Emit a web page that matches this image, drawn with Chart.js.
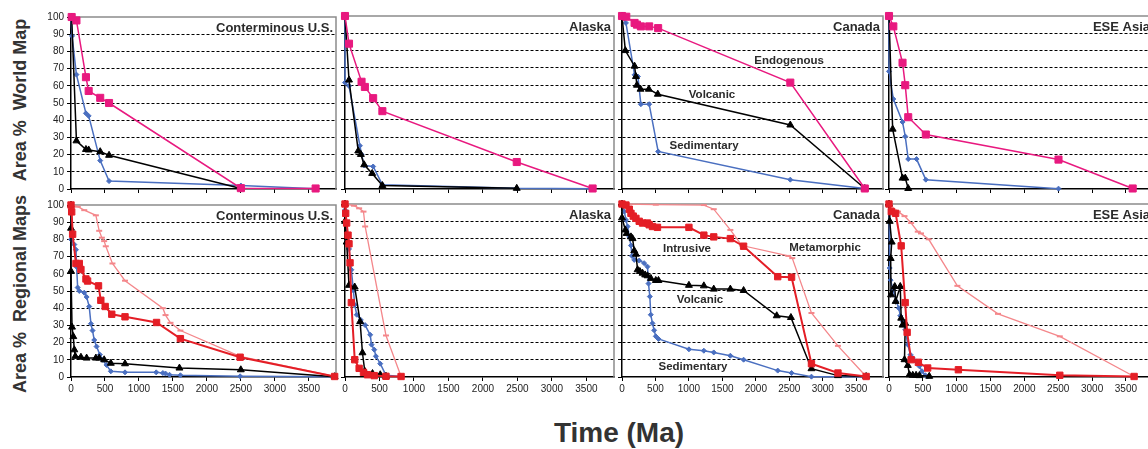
<!DOCTYPE html>
<html>
<head>
<meta charset="utf-8">
<script src="https://cdn.jsdelivr.net/npm/chart.js@4/dist/chart.umd.min.js"></script>
<style>
	html, body { margin: 0; padding: 0; background: #fff; overflow: hidden; }
	#wrap { position: relative; width: 1148px; height: 449px; overflow: hidden; }
	#wrap canvas { position: absolute; }
	.ytitle, .xtitle {
		position: absolute; font-family: 'Liberation Sans', Arial, sans-serif; font-weight: bold;
		color: #333; white-space: pre; line-height: 1;
	}
	.ytitle { font-size: 18px; transform: translate(-50%, -50%) rotate(-90deg); }
	.xtitle { font-size: 28px; transform: translate(-50%, -50%); }
</style>
</head>
<body>
<div id="wrap">
	<div class="ytitle" style="left:20px;top:100px">Area %  World Map</div>
	<div class="ytitle" style="left:20px;top:294px">Area %  Regional Maps</div>
	<div class="xtitle" style="left:619px;top:433px">Time (Ma)</div>
</div>
<script>
// axis setup
const xMax = 3900
const xTickValues = [0, 500, 1000, 1500, 2000, 2500, 3000, 3500]
const yTickValues = [0, 10, 20, 30, 40, 50, 60, 70, 80, 90, 100]
const panelTitles = ['Conterminous U.S.', 'Alaska', 'Canada', 'ESE Asia']

// World map (top row) - [age Ma, area %]
const usWorldEndo = [[10, 100], [80, 98], [220, 65], [260, 57], [430, 53], [560, 50], [2500, 0.5], [3600, 0.3]]
const usWorldSed = [[0, 100], [15, 89], [80, 66.5], [220, 44], [260, 42.5], [430, 16.5], [560, 4.6], [2500, 2], [3600, 0.2]]
const usWorldVol = [[10, 100], [80, 28], [220, 23], [260, 22.7], [430, 21.7], [560, 19.6], [2500, 0.3]]

const akWorldEndo = [[0, 100], [58, 84], [240, 62], [288, 59], [408, 52.5], [542, 45], [2490, 15.6], [3590, 0.3]]
const akWorldSed = [[0, 100], [0, 61.5], [58, 59.6], [216, 25], [240, 20], [278, 13.6], [408, 13], [542, 2.5], [2490, 0.4], [3590, 0.2]]
const akWorldVol = [[0, 100], [58, 63], [192, 22], [230, 20], [278, 14], [394, 9], [542, 2], [2490, 0.4]]

const caWorldEndo = [[0, 100], [64, 99.6], [188, 96], [223, 95], [282, 94], [406, 94], [540, 93], [2515, 61.5], [3628, 0.3]]
const caWorldVol = [[0, 100], [50, 80], [188, 71], [208, 65], [223, 60], [277, 57.7], [401, 57.7], [535, 54.8], [2515, 37], [3628, 0.3]]
const caWorldSed = [[0, 100], [59, 96], [188, 66], [238, 65], [282, 49], [406, 49], [540, 21.7], [2515, 5.4], [3628, 0.3]]

const asWorldEndo = [[0, 100], [64, 94], [200, 73], [240, 60], [284, 41.5], [544, 31.5], [2504, 17], [3600, 0.3]]
const asWorldSed = [[0, 100], [0, 68], [64, 52], [200, 38.7], [240, 30.4], [284, 17.3], [407, 17.3], [544, 5.4], [2504, 0.2]]
const asWorldVol = [[0, 100], [54, 34.6], [200, 6.3], [240, 6.3], [284, 0.3]]

// Regional maps (bottom row)
const usRegMeta = [[0, 100], [100, 99], [195, 97], [366, 94], [415, 85], [454, 81], [488, 79], [512, 76], [610, 66], [795, 56], [1352, 40], [1391, 36], [1464, 31.5], [1610, 27], [2489, 12], [3880, 0.3]]
const usRegIntr = [[0, 100], [10, 96], [24, 83], [73, 66], [122, 66], [146, 62.5], [220, 57], [244, 55.8], [405, 53], [439, 44.6], [503, 41], [600, 36.5], [795, 35], [1259, 31.7], [1610, 22.3], [2489, 11.5], [3880, 0.3]]
const usRegSed = [[0, 100], [0, 80], [49, 77], [73, 74], [83, 64], [98, 52], [122, 50], [195, 49], [230, 46.5], [268, 41], [293, 31], [317, 27], [342, 21.5], [376, 17.7], [425, 13], [464, 10], [522, 7], [586, 3.3], [795, 2.7], [1254, 2.7], [1352, 2.3], [1391, 2], [1450, 1.3], [1610, 1], [2489, 0.4], [3880, 0.2]]
const usRegVol = [[0, 100], [0, 86.5], [0, 61.5], [15, 29], [34, 23.5], [49, 15.8], [63, 12], [146, 11.5], [230, 11], [366, 11], [415, 11], [488, 10], [586, 8], [795, 7.7], [1596, 5.2], [2499, 4.2], [3880, 0.2]]

const akRegMeta = [[0, 100], [131, 99], [205, 97.5], [268, 95.6], [292, 87], [594, 24], [813, 0.3]]
const akRegIntr = [[0, 100], [10, 94.6], [24, 89], [44, 82], [58, 77], [73, 66], [92, 43], [141, 10], [205, 5], [268, 2.7], [326, 1.3], [424, 0.8], [594, 0.4], [813, 0.3]]
const akRegSed = [[0, 96.5], [34, 79], [58, 74], [92, 62], [122, 50], [141, 41.7], [170, 36], [229, 33], [292, 30], [365, 24.4], [385, 18.7], [424, 15.8], [448, 12], [511, 7.7], [594, 1], [813, 0.3]]
const akRegVol = [[0, 100], [0, 90], [24, 78], [58, 53], [141, 52], [219, 32], [253, 14], [287, 3.3], [399, 2], [511, 1.3], [594, 0.4]]

const caRegMeta = [[0, 100], [505, 99.6], [1223, 99.4], [1371, 97], [1619, 85], [1792, 76], [2485, 70], [2544, 68.7], [2831, 37], [3227, 18], [3648, 0.3]]
const caRegIntr = [[0, 100], [59, 99.4], [109, 97], [134, 94.6], [168, 93], [208, 91.7], [257, 90], [307, 89], [381, 89], [406, 88], [455, 87], [530, 86.5], [1000, 86.5], [1223, 82], [1371, 81], [1619, 80], [1817, 75.6], [2327, 58], [2534, 57.7], [2831, 7.7], [3227, 2.3], [3648, 0.3]]
const caRegVol = [[0, 100], [0, 92], [50, 85], [69, 83], [134, 81], [158, 80], [183, 73], [208, 71], [233, 62], [267, 61], [307, 60], [346, 59], [381, 58.5], [431, 57], [505, 55.8], [545, 55.8], [1000, 53], [1223, 52.7], [1371, 50.8], [1619, 50.8], [1817, 50], [2312, 35.4], [2524, 34.4], [2831, 4.8], [3227, 0.8], [3648, 0.3]]
const caRegSed = [[0, 100], [35, 95.6], [59, 90.8], [84, 87], [109, 81], [134, 76], [149, 70], [183, 67.7], [257, 67.3], [331, 65.8], [381, 63.8], [396, 54], [416, 46.5], [430, 36], [455, 31], [480, 27], [505, 23.5], [545, 22], [1000, 16], [1223, 15.2], [1371, 14.2], [1619, 12.3], [1817, 10], [2327, 3.7], [2534, 2.3], [2831, 0.2], [3648, 0.2]]

const asRegMeta = [[0, 100], [132, 95.6], [229, 93], [327, 89], [425, 84], [473, 83], [586, 79.6], [1010, 52.7], [1610, 36.5], [2523, 23.5], [3621, 0.3]]
const asRegIntr = [[0, 100], [34, 95.6], [98, 94.6], [180, 75.8], [239, 43], [268, 25.8], [327, 10], [434, 8.5], [571, 5.2], [1025, 4.2], [2523, 1], [3621, 0.3]]
const asRegSed = [[0, 100], [10, 63], [24, 56], [59, 50.4], [107, 43.7], [146, 39.8], [166, 35.4], [205, 32], [239, 27.3], [278, 18.7], [317, 12.9], [351, 11], [400, 9], [449, 6.2], [488, 3.3], [537, 1], [571, 0.3]]
const asRegVol = [[0, 100], [10, 90], [40, 78], [25, 68.5], [30, 47.5], [85, 52.3], [98, 43.7], [166, 52.3], [180, 34], [200, 30], [240, 31], [229, 10], [278, 6.7], [302, 1.3], [351, 1], [400, 1], [449, 0.8], [595, 0.4]]

// series looks
const looks = {
	endo: { color: '#e8197f', point: 'rect', r: 5, w: 1.5 },
	sed: { color: '#4a6fc0', point: 'rectRot', r: 2.5, w: 1.5 },
	vol: { color: '#000000', point: 'triangle', r: 4, w: 1.5 },
	intr: { color: '#e41e26', point: 'rect', r: 4.5, w: 2 },
	meta: { color: '#f4878b', point: 'line', r: 3, w: 1.3 },
}

const rowBox = [{ top: 16, bottom: 189 }, { top: 204, bottom: 377 }]
const colBox = [{ left: 71, right: 336 }, { left: 345, right: 614 }, { left: 622, right: 883 }, { left: 889, right: 1153 }]

const panels = [
	{ row: 0, col: 0, series: [['endo', usWorldEndo], ['vol', usWorldVol], ['sed', usWorldSed]] },
	{ row: 0, col: 1, series: [['endo', akWorldEndo], ['vol', akWorldVol], ['sed', akWorldSed]] },
	{ row: 0, col: 2, series: [['endo', caWorldEndo], ['vol', caWorldVol], ['sed', caWorldSed]],
		notes: [['Endogenous', 2496, 74], ['Volcanic', 1345, 54.3], ['Sedimentary', 1226, 24.9]] },
	{ row: 0, col: 3, series: [['endo', asWorldEndo], ['vol', asWorldVol], ['sed', asWorldSed]] },
	{ row: 1, col: 0, series: [['intr', usRegIntr], ['meta', usRegMeta], ['vol', usRegVol], ['sed', usRegSed]] },
	{ row: 1, col: 1, series: [['intr', akRegIntr], ['meta', akRegMeta], ['vol', akRegVol], ['sed', akRegSed]] },
	{ row: 1, col: 2, series: [['intr', caRegIntr], ['meta', caRegMeta], ['vol', caRegVol], ['sed', caRegSed]],
		notes: [['Intrusive', 971, 74], ['Metamorphic', 3034, 74.6], ['Volcanic', 1166, 44.5], ['Sedimentary', 1061, 5.8]] },
	{ row: 1, col: 3, series: [['intr', asRegIntr], ['meta', asRegMeta], ['vol', asRegVol], ['sed', asRegSed]] },
]

Chart.defaults.font.family = "'Liberation Sans', Arial, sans-serif"

// gray plot frame (top + right) like the spreadsheet original, plus panel texts
const framePlugin = {
	id: 'frame',
	beforeDatasetsDraw(chart) {
		const { ctx, chartArea: a } = chart
		ctx.save()
		ctx.strokeStyle = '#8c8c8c'
		ctx.lineWidth = 1.5
		ctx.beginPath()
		ctx.moveTo(a.left, a.top)
		ctx.lineTo(a.right, a.top)
		ctx.lineTo(a.right, a.bottom)
		ctx.stroke()
		ctx.restore()
	},
	afterDatasetsDraw(chart, args, opts) {
		const { ctx, chartArea: a, scales } = chart
		ctx.save()
		ctx.fillStyle = '#2b2b2b'
		ctx.textBaseline = 'middle'
		ctx.font = "bold 13px 'Liberation Sans', Arial, sans-serif"
		ctx.textAlign = 'right'
		ctx.fillText(opts.title, a.right - 3, a.top + 11)
		ctx.font = "bold 11.5px 'Liberation Sans', Arial, sans-serif"
		ctx.textAlign = 'center'
		for (const [txt, x, y] of opts.notes || []) {
			ctx.fillText(txt, scales.x.getPixelForValue(x), scales.y.getPixelForValue(y))
		}
		ctx.restore()
	},
}

const YW = 36, PT = 8, PR = 8, XH = 20
const wrap = document.getElementById('wrap')

panels.forEach((p) => {
	const rb = rowBox[p.row], cb = colBox[p.col]
	const canvas = document.createElement('canvas')
	const w = cb.right - cb.left + YW + PR
	const h = rb.bottom - rb.top + PT + XH
	canvas.width = w
	canvas.height = h
	canvas.style.left = (cb.left - YW) + 'px'
	canvas.style.top = (rb.top - PT) + 'px'
	canvas.style.width = w + 'px'
	canvas.style.height = h + 'px'
	wrap.appendChild(canvas)

	new Chart(canvas, {
		type: 'scatter',
		data: {
			datasets: p.series.map(([key, pts]) => {
				const lk = looks[key]
				return {
					data: pts.map(([x, y]) => ({ x, y })),
					showLine: true,
					borderColor: lk.color,
					backgroundColor: lk.color,
					borderWidth: lk.w,
					pointStyle: lk.point,
					pointRadius: lk.r,
					pointBorderWidth: key === 'meta' ? 2 : 1,
					tension: 0,
					clip: false,
				}
			}),
		},
		options: {
			responsive: false,
			animation: false,
			devicePixelRatio: 1,
			layout: { padding: { top: PT, right: PR, left: 0, bottom: 0 } },
			plugins: {
				legend: { display: false },
				tooltip: { enabled: false },
				frame: { title: panelTitles[p.col], notes: p.notes },
			},
			scales: {
				x: {
					type: 'linear',
					min: 0,
					max: xMax,
					ticks: {
						display: p.row === 1,
						color: '#222',
						font: { size: 10 },
						padding: 2,
						maxRotation: 0,
						autoSkip: false,
						callback: (v) => String(v),
					},
					afterBuildTicks(s) { s.ticks = xTickValues.map((v) => ({ value: v })) },
					grid: { drawOnChartArea: false, tickLength: 4, color: '#000', lineWidth: 1 },
					border: { color: '#000', width: 1.5 },
					afterFit(s) { s.height = XH },
				},
				y: {
					min: 0,
					max: 100,
					ticks: {
						display: p.col === 0,
						color: '#222',
						font: { size: 10 },
						padding: 3,
						callback: (v) => String(v),
					},
					afterBuildTicks(s) { s.ticks = yTickValues.map((v) => ({ value: v })) },
					grid: {
						color: (c) => (c.tick && (c.tick.value === 0 || c.tick.value === 100)) ? 'rgba(0,0,0,0)' : '#000',
						tickColor: '#000',
						tickLength: 4,
						lineWidth: 1,
					},
					border: { color: '#000', width: 1.5, dash: [3, 2] },
					afterFit(s) { s.width = YW },
				},
			},
		},
		plugins: [framePlugin],
	})
})
</script>
</body>
</html>
